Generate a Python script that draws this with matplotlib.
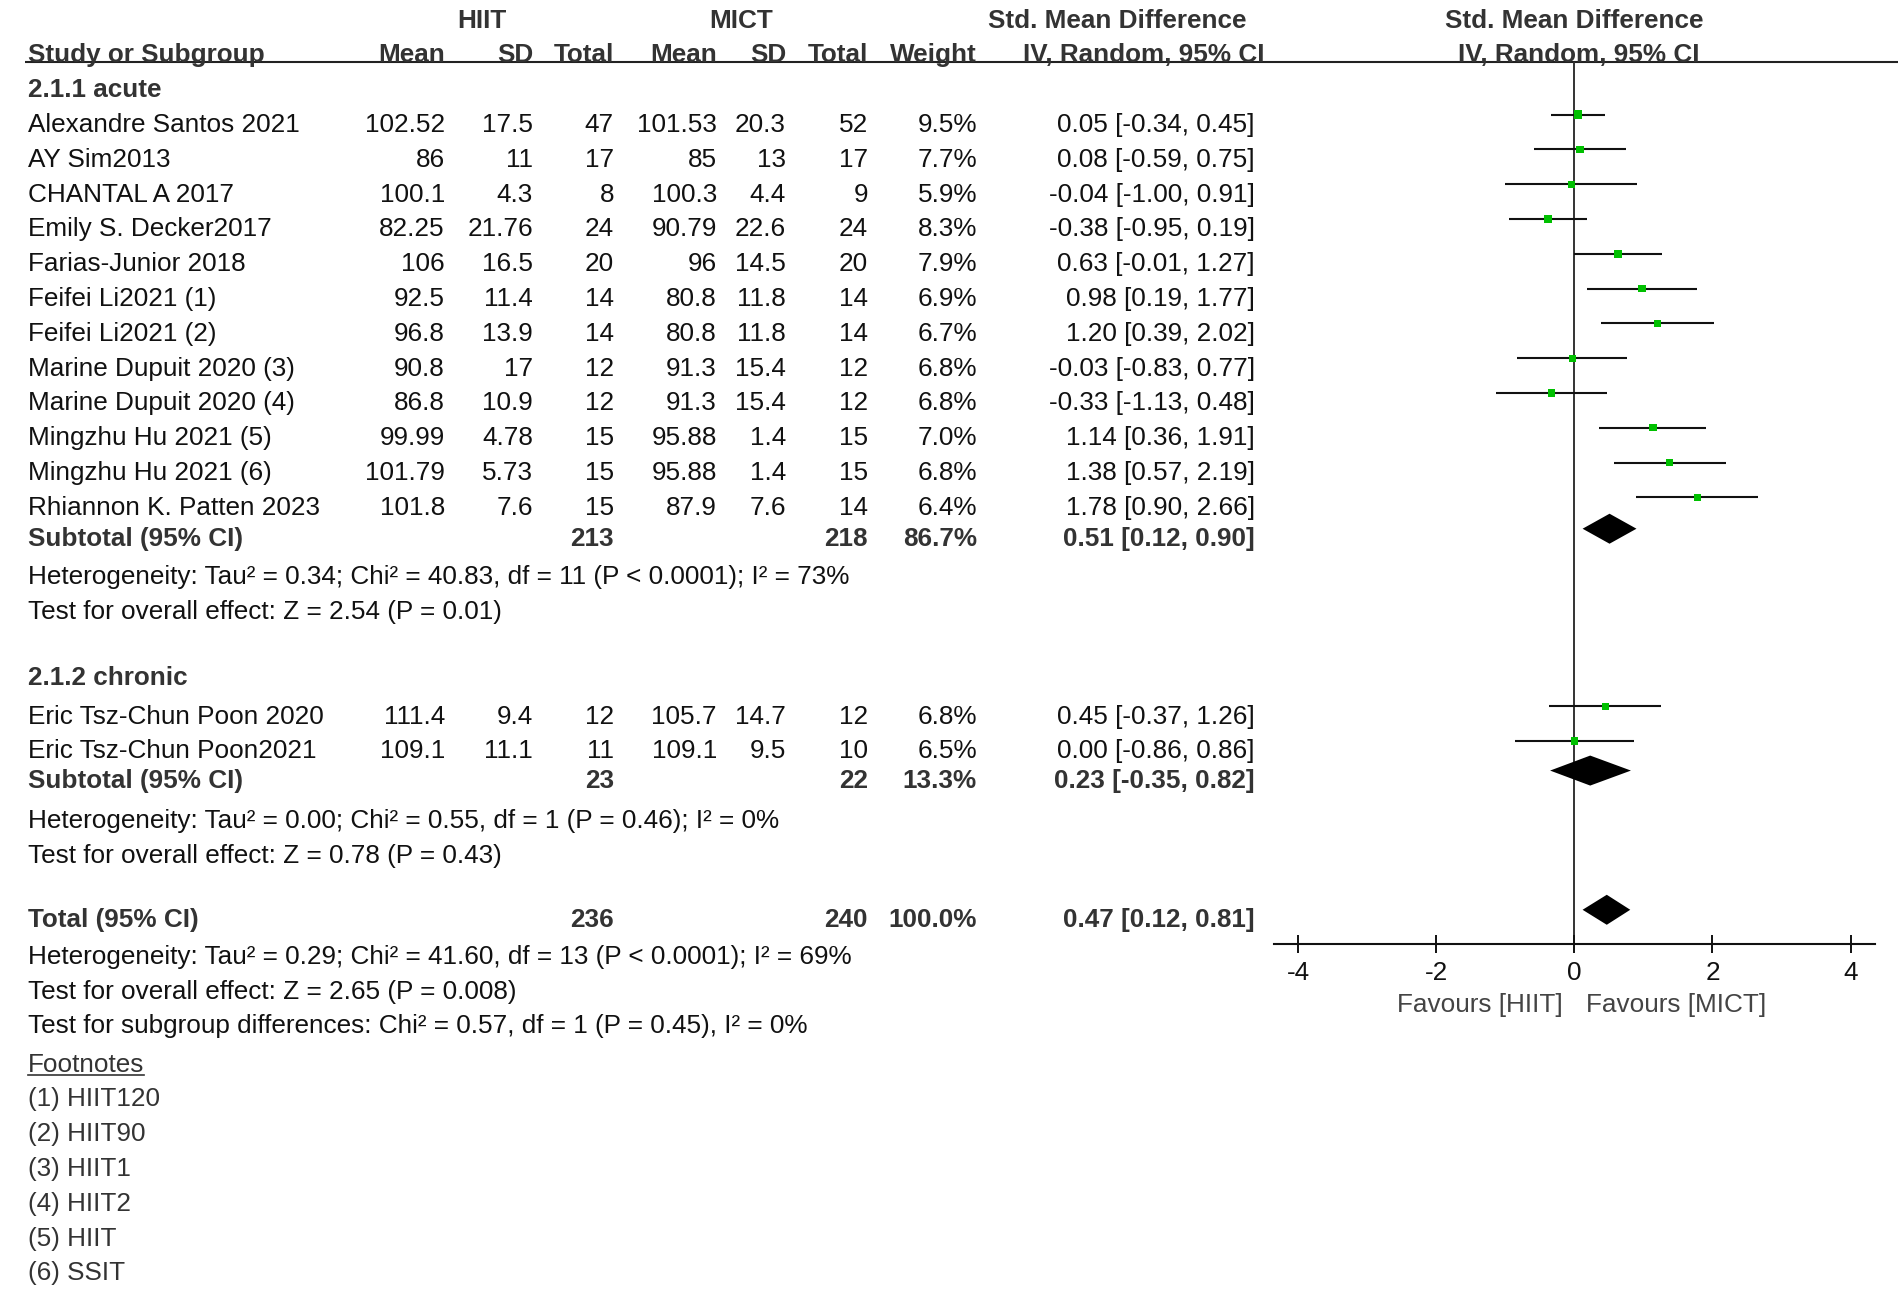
import numpy as np
import matplotlib
matplotlib.use("Agg")
import matplotlib.pyplot as plt

plt.rcParams['font.family'] = ['Liberation Sans', 'DejaVu Sans']

# ---- data ----
acute_studies = ["Alexandre Santos 2021", "AY Sim2013", "CHANTAL A 2017", "Emily S. Decker2017",
                 "Farias-Junior 2018", "Feifei Li2021 (1)", "Feifei Li2021 (2)", "Marine Dupuit 2020 (3)",
                 "Marine Dupuit 2020 (4)", "Mingzhu Hu 2021 (5)", "Mingzhu Hu 2021 (6)",
                 "Rhiannon K. Patten 2023"]
acute_hiit_mean = ["102.52", "86", "100.1", "82.25", "106", "92.5", "96.8", "90.8", "86.8", "99.99", "101.79", "101.8"]
acute_hiit_sd = ["17.5", "11", "4.3", "21.76", "16.5", "11.4", "13.9", "17", "10.9", "4.78", "5.73", "7.6"]
acute_hiit_n = [47, 17, 8, 24, 20, 14, 14, 12, 12, 15, 15, 15]
acute_mict_mean = ["101.53", "85", "100.3", "90.79", "96", "80.8", "80.8", "91.3", "91.3", "95.88", "95.88", "87.9"]
acute_mict_sd = ["20.3", "13", "4.4", "22.6", "14.5", "11.8", "11.8", "15.4", "15.4", "1.4", "1.4", "7.6"]
acute_mict_n = [52, 17, 9, 24, 20, 14, 14, 12, 12, 15, 15, 14]
acute_weight = [9.5, 7.7, 5.9, 8.3, 7.9, 6.9, 6.7, 6.8, 6.8, 7.0, 6.8, 6.4]
acute_smd = [0.05, 0.08, -0.04, -0.38, 0.63, 0.98, 1.20, -0.03, -0.33, 1.14, 1.38, 1.78]
acute_lo = [-0.34, -0.59, -1.00, -0.95, -0.01, 0.19, 0.39, -0.83, -1.13, 0.36, 0.57, 0.90]
acute_hi = [0.45, 0.75, 0.91, 0.19, 1.27, 1.77, 2.02, 0.77, 0.48, 1.91, 2.19, 2.66]

chronic_studies = ["Eric Tsz-Chun Poon 2020", "Eric Tsz-Chun Poon2021"]
chronic_hiit_mean = ["111.4", "109.1"]
chronic_hiit_sd = ["9.4", "11.1"]
chronic_hiit_n = [12, 11]
chronic_mict_mean = ["105.7", "109.1"]
chronic_mict_sd = ["14.7", "9.5"]
chronic_mict_n = [12, 10]
chronic_weight = [6.8, 6.5]
chronic_smd = [0.45, 0.00]
chronic_lo = [-0.37, -0.86]
chronic_hi = [1.26, 0.86]

# subtotal / total: hiit n, mict n, weight, smd, lo, hi
acute_sub = [213, 218, 86.7, 0.51, 0.12, 0.90]
chronic_sub = [23, 22, 13.3, 0.23, -0.35, 0.82]
total_all = [236, 240, 100.0, 0.47, 0.12, 0.81]

acute_stats = ["Heterogeneity: Tau\u00b2 = 0.34; Chi\u00b2 = 40.83, df = 11 (P < 0.0001); I\u00b2 = 73%",
               "Test for overall effect: Z = 2.54 (P = 0.01)"]
chronic_stats = ["Heterogeneity: Tau\u00b2 = 0.00; Chi\u00b2 = 0.55, df = 1 (P = 0.46); I\u00b2 = 0%",
                 "Test for overall effect: Z = 0.78 (P = 0.43)"]
total_stats = ["Heterogeneity: Tau\u00b2 = 0.29; Chi\u00b2 = 41.60, df = 13 (P < 0.0001); I\u00b2 = 69%",
               "Test for overall effect: Z = 2.65 (P = 0.008)",
               "Test for subgroup differences: Chi\u00b2 = 0.57, df = 1 (P = 0.45), I\u00b2 = 0%"]
footnotes = ["(1) HIIT120", "(2) HIIT90", "(3) HIIT1", "(4) HIIT2", "(5) HIIT", "(6) SSIT"]
xticks = [-4, -2, 0, 2, 4]

# ---- layout ----
W, H = 1899, 1290
ROW0, ROWH = 53.0, 34.8          # pixel y of row 0 and row height


def row(px):
    return (px - ROW0) / ROWH


BASE = 0.27                      # text baseline below row centre
MARK = -0.23                     # forest marks sit slightly above the text
FS = 18.8
TXT = '#111111'
BTXT = '#333333'

col_name = 28
col_right = [445, 533, 614, 717, 786, 868, 977, 1255]

fig = plt.figure(figsize=(W / 100, H / 100), dpi=100)
ax = fig.add_axes([0, 0, 1, 1])
ax.set_xlim(0, W)
ax.set_ylim(row(H), row(0))
ax.axis('off')

axis_px, top_px = 944, 61.7
x0_px, x1_px = 1273.8, 1874.8
fx = fig.add_axes([x0_px / W, (H - axis_px) / H, (x1_px - x0_px) / W, (axis_px - top_px) / H])
fx.set_xlim(-4.35, 4.35)
fx.set_ylim(row(axis_px), row(top_px))
fx.patch.set_alpha(0)
for s in ['top', 'left', 'right']:
    fx.spines[s].set_visible(False)
fx.spines['bottom'].set_linewidth(1.5)
fx.spines['bottom'].set_color('#111111')
fx.set_yticks([])
fx.set_xticks(xticks)
fx.set_xticklabels([str(t) for t in xticks])
fx.tick_params(axis='x', direction='inout', length=13, width=1.4, pad=6,
               labelsize=FS, labelcolor=TXT, color='#111111')
fx.axvline(0, color='#333333', lw=1.4, zorder=1)


def put(x, k, s, ha='right', bold=False, color=None):
    ax.text(x, k + BASE, s, ha=ha, va='baseline', fontsize=FS,
            fontweight='bold' if bold else 'normal',
            color=color or (BTXT if bold else TXT))


# header
put(482, -1, "HIIT", ha='center', bold=True)
put(741, -1, "MICT", ha='center', bold=True)
put(1117, -1, "Std. Mean Difference", ha='center', bold=True)
put(1574, -1, "Std. Mean Difference", ha='center', bold=True)
put(col_name, 0, "Study or Subgroup", ha='left', bold=True)
for x, h in zip(col_right[:7], ["Mean", "SD", "Total", "Mean", "SD", "Total", "Weight"]):
    put(x, 0, h, bold=True)
put(1144, 0, "IV, Random, 95% CI", ha='center', bold=True)
put(1579, 0, "IV, Random, 95% CI", ha='center', bold=True)
ax.plot([25, W], [row(top_px)] * 2, color='#222222', lw=1.5, solid_capstyle='butt')


def study_rows(k0, names, hm, hs, hn, mm, ms, mn, wt, smd, lo, hi):
    for i, name in enumerate(names):
        k = k0 + i
        put(col_name, k, name, ha='left')
        cells = [hm[i], hs[i], str(hn[i]), mm[i], ms[i], str(mn[i]),
                 f"{wt[i]:.1f}%", f"{smd[i]:.2f} [{lo[i]:.2f}, {hi[i]:.2f}]"]
        for x, c in zip(col_right, cells):
            put(x, k, c)
        fx.hlines(k + MARK, lo[i], hi[i], color='#111111', lw=1.5, zorder=2)
        size_px = 8.5 * np.sqrt(wt[i] / 9.5)
        fx.scatter([smd[i]], [k + MARK], marker='s', s=(size_px * 0.72) ** 2,
                   color='#00c000', edgecolors='none', zorder=3)


def summary_row(k, label, vals):
    put(col_name, k, label, ha='left', bold=True)
    put(col_right[2], k, str(vals[0]), bold=True)
    put(col_right[5], k, str(vals[1]), bold=True)
    put(col_right[6], k, f"{vals[2]:.1f}%", bold=True)
    put(col_right[7], k, f"{vals[3]:.2f} [{vals[4]:.2f}, {vals[5]:.2f}]", bold=True)
    h = 15 / ROWH
    yc = k + MARK
    fx.fill([vals[4], vals[3], vals[5], vals[3]], [yc, yc - h, yc, yc + h],
            color='black', lw=0, zorder=3)


put(col_name, 1, "2.1.1 acute", ha='left', bold=True)
study_rows(2, acute_studies, acute_hiit_mean, acute_hiit_sd, acute_hiit_n, acute_mict_mean,
           acute_mict_sd, acute_mict_n, acute_weight, acute_smd, acute_lo, acute_hi)
summary_row(13.9, "Subtotal (95% CI)", acute_sub)
for i, s in enumerate(acute_stats):
    put(col_name, 15 + i, s, ha='left')

put(col_name, 17.9, "2.1.2 chronic", ha='left', bold=True)
study_rows(19, chronic_studies, chronic_hiit_mean, chronic_hiit_sd, chronic_hiit_n, chronic_mict_mean,
           chronic_mict_sd, chronic_mict_n, chronic_weight, chronic_smd, chronic_lo, chronic_hi)
summary_row(20.85, "Subtotal (95% CI)", chronic_sub)
for i, s in enumerate(chronic_stats):
    put(col_name, 22 + i, s, ha='left')

summary_row(24.85, "Total (95% CI)", total_all)
for i, s in enumerate(total_stats):
    put(col_name, 25.9 + i, s, ha='left')

# favours labels under the axis
fx.text(-0.16, row(1003) + BASE, "Favours [HIIT]", ha='right', va='baseline', fontsize=FS, color='#444444')
fx.text(0.17, row(1003) + BASE, "Favours [MICT]", ha='left', va='baseline', fontsize=FS, color='#444444')

# footnotes
fn = ax.text(col_name, 29 + BASE, "Footnotes", ha='left', va='baseline', fontsize=FS, color='#333333')
for i, s in enumerate(footnotes):
    put(col_name, 30 + i, s, ha='left', color='#333333')
fig.canvas.draw()
bb = fn.get_window_extent().transformed(ax.transData.inverted())
ax.plot([bb.x0, bb.x1], [29 + BASE + 0.1] * 2, color='#333333', lw=1.2)

fig.savefig("out.png", dpi=100, facecolor='white')
